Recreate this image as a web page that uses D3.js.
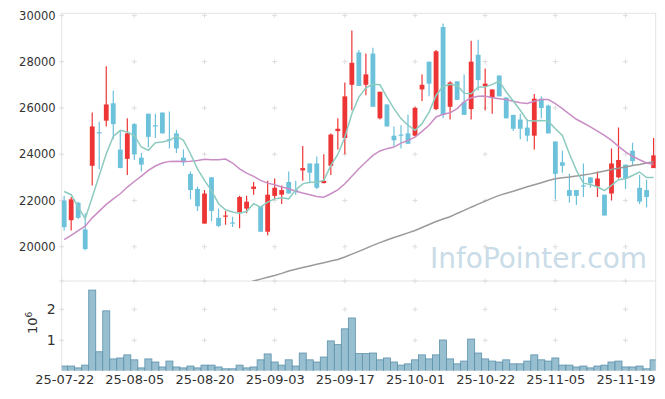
<!DOCTYPE html>
<html>
<head>
<meta charset="utf-8">
<script src="https://cdn.jsdelivr.net/npm/d3@7"></script>
<style>
  body { margin: 0; background: #fff; }
  text { font-family: "DejaVu Sans", Verdana, sans-serif; fill: #333; }
</style>
</head>
<body>
<div id="chart"></div>
<script>
// trading days shown on the chart
var dates = [
  "25-07-22", "25-07-23", "25-07-24", "25-07-25", "25-07-28", "25-07-29", "25-07-30", "25-07-31", "25-08-01", "25-08-04",
  "25-08-05", "25-08-06", "25-08-07", "25-08-08", "25-08-11", "25-08-12", "25-08-13", "25-08-14", "25-08-18", "25-08-19",
  "25-08-20", "25-08-21", "25-08-22", "25-08-25", "25-08-26", "25-08-27", "25-08-28", "25-08-29", "25-09-01", "25-09-02",
  "25-09-03", "25-09-04", "25-09-05", "25-09-08", "25-09-09", "25-09-10", "25-09-11", "25-09-12", "25-09-15", "25-09-16",
  "25-09-17", "25-09-18", "25-09-19", "25-09-22", "25-09-23", "25-09-24", "25-09-25", "25-09-26", "25-09-29", "25-09-30",
  "25-10-01", "25-10-02", "25-10-10", "25-10-13", "25-10-14", "25-10-15", "25-10-16", "25-10-17", "25-10-20", "25-10-21",
  "25-10-22", "25-10-23", "25-10-24", "25-10-27", "25-10-28", "25-10-29", "25-10-30", "25-10-31", "25-11-03", "25-11-04",
  "25-11-05", "25-11-06", "25-11-07", "25-11-10", "25-11-11", "25-11-12", "25-11-13", "25-11-14", "25-11-17", "25-11-18",
  "25-11-19", "25-11-20", "25-11-21", "25-11-24", "25-11-25"
];

var openPrice = [
  22000, 21150, 21900, 20750, 23500, 24950, 25450, 26200, 24200, 23800,
  25300, 23850, 25750, 25250, 25800, 24650, 24900, 23850, 23150, 22500,
  21000, 23000, 21250, 21300, 21050, 21500, 21650, 22500, 21750, 20650,
  22200, 22250, 22800, 22450, 23300, 23600, 23600, 22750, 23500, 25000,
  24700, 27000, 28400, 27000, 28350, 25550, 26150, 24800, 24850, 24900,
  24800, 26800, 28000, 25950, 29500, 26050, 27150, 26250, 25950, 28300,
  26950, 26450, 27400, 26450, 25700, 25500, 25150, 24800, 26400, 26100,
  24550, 23650, 22450, 22450, 22650, 23000, 22600, 22250, 22300, 23000,
  23550, 24150, 22550, 22450, 23400
];
var highPrice = [
  22200, 22150, 21950, 21450, 25800, 25400, 27800, 26750, 25000, 25550,
  25350, 24050, 25750, 25750, 25800, 25850, 25050, 24200, 23250, 22600,
  22450, 23000, 21650, 21550, 21300, 22200, 22200, 22800, 21750, 22850,
  22950, 22650, 23250, 22850, 24350, 23600, 23900, 24000, 24900, 25550,
  27100, 29350, 28500, 28350, 28600, 26700, 26150, 25200, 25250, 25700,
  26050, 27450, 28000, 28500, 29650, 27150, 27150, 27450, 28900, 28950,
  27700, 26800, 27400, 26450, 25700, 25750, 25500, 26600, 26500, 26150,
  24550, 24150, 23150, 22450, 23600, 23000, 23250, 22250, 24250, 25150,
  23550, 24500, 23100, 22900, 24700
];
var lowPrice = [
  20700, 20700, 21200, 19850, 22650, 23350, 25200, 24650, 23400, 23100,
  23750, 23250, 24300, 24700, 24900, 24250, 24050, 23500, 22050, 21550,
  21000, 21100, 20850, 20950, 20850, 20800, 21450, 22250, 20650, 20500,
  22050, 21850, 22300, 22250, 22850, 22750, 22500, 22750, 23100, 24200,
  24000, 25900, 26950, 26550, 26050, 25500, 25200, 24350, 24250, 24450,
  24750, 26300, 26500, 25900, 25550, 25500, 26350, 25700, 25500, 26750,
  25900, 25750, 26500, 25550, 25000, 24650, 24550, 24200, 25550, 24900,
  22050, 23200, 21900, 21800, 22150, 22550, 22150, 21350, 22000, 22950,
  22500, 23500, 21850, 21700, 23400
];
var closePrice = [
  20850, 22050, 21250, 19900, 25200, 24900, 26150, 25300, 23400, 24900,
  24000, 23550, 24750, 25200, 24900, 24600, 24250, 23650, 22450, 21750,
  22300, 21550, 20900, 21350, 21000, 22150, 21950, 22600, 20650, 22250,
  22550, 22450, 22300, 22400, 23400, 23200, 22550, 22850, 24850, 25100,
  26500, 27950, 26950, 27450, 26050, 26700, 25200, 24600, 24800, 24450,
  26000, 27000, 27050, 28450, 25700, 27100, 26350, 25700, 28000, 27200,
  27050, 26800, 26500, 25550, 25100, 25100, 24800, 26400, 26000, 24900,
  23150, 23500, 22200, 22200, 22600, 22750, 22950, 21350, 23600, 23750,
  22950, 23700, 21950, 22150, 23950
];

// shares traded
var volume = [
  170000, 170000, 110000, 200000, 2620000, 630000, 1950000, 400000, 430000, 530000,
  370000, 110000, 400000, 300000, 140000, 330000, 140000, 110000, 170000, 110000,
  200000, 200000, 140000, 80000, 80000, 200000, 110000, 140000, 370000, 560000,
  300000, 200000, 370000, 170000, 590000, 370000, 300000, 460000, 980000, 860000,
  1370000, 1720000, 570000, 570000, 590000, 370000, 430000, 300000, 200000, 240000,
  370000, 530000, 400000, 530000, 1010000, 400000, 240000, 330000, 1040000, 590000,
  400000, 330000, 300000, 370000, 240000, 240000, 330000, 530000, 370000, 330000,
  430000, 200000, 200000, 140000, 170000, 110000, 170000, 200000, 300000, 330000,
  140000, 140000, 170000, 80000, 370000
];

// moving averages as drawn (5, 20, 60 days)
var ma5 = [
  22390, 22250, 21710, 21210, 22140, 23080, 24020, 24770, 25030, 24960,
  24810, 24310, 24170, 24500, 24530, 24600, 24770, 24600, 24020, 23370,
  22870, 22430, 21860, 21600, 21500, 21450, 21520, 21860, 21710, 21930,
  22070, 22120, 22070, 22460, 22720, 22790, 22790, 22870, 23520, 23990,
  24740, 25750, 26470, 26870, 27020, 27000, 26470, 25970, 25540, 25250,
  25030, 25320, 25820, 26540, 26930, 27020, 26970, 26640, 26610, 26900,
  26900, 27020, 27160, 26690, 26300, 25900, 25460, 25430, 25460, 25430,
  25100, 24810, 24020, 23300, 22750, 22690, 22580, 22430, 22650, 22900,
  22940, 23080, 23230, 22990, 22990
];
var ma20 = [
  20310, 20490, 20700, 20890, 21250, 21540, 21830, 22070, 22290, 22580,
  22820, 23050, 23300, 23490, 23620, 23690, 23700, 23690, 23700, 23730,
  23780, 23760, 23760, 23790, 23620, 23370, 23180, 23040, 22870, 22750,
  22680, 22580, 22510, 22400, 22320, 22250, 22170, 22140, 22290, 22460,
  22720, 23050, 23370, 23660, 23950, 24140, 24240, 24310, 24480, 24600,
  24740, 24990, 25250, 25610, 25730, 25790, 25970, 26260, 26440, 26500,
  26520, 26440, 26400, 26360, 26290, 26220, 26190, 26290, 26360, 26360,
  26190, 25970, 25730, 25510, 25350, 25180, 25000, 24810, 24600, 24340,
  24100, 23910, 23760, 23620, 23560
];
var ma60 = [
  null, null, null, null, null, null, null, null, null, null,
  null, null, null, null, null, null, null, null, null, null,
  null, null, null, null, null, null, 18420, 18520, 18600, 18680,
  18760, 18850, 18950, 19030, 19100, 19170, 19240, 19310, 19380, 19450,
  19560, 19680, 19800, 19930, 20060, 20180, 20290, 20400, 20500, 20600,
  20700, 20830, 20960, 21090, 21200, 21300, 21440, 21570, 21710, 21840,
  21970, 22100, 22220, 22310, 22400, 22500, 22590, 22680, 22770, 22860,
  22940, 22980, 23010, 23060, 23100, 23150, 23210, 23270, 23340, 23390,
  23450, 23510, 23560, 23620, 23680
];

var priceTicks = [20000, 22000, 24000, 26000, 28000, 30000];
var volumeTicks = [1000000, 2000000];
var dateTicks = ["25-07-22", "25-08-05", "25-08-20", "25-09-03", "25-09-17", "25-10-01", "25-10-22", "25-11-05", "25-11-19"];

var svgWidth = 665;
var svgHeight = 399;

// panel edges
var plot = { left: 61.7, right: 655.7, top: 13.3, split: 281, bottom: 370.5 };

var upColor = "#ee3535";
var downColor = "#6cc1db";

var svg = d3.select("#chart")
  .append("svg")
  .attr("width", svgWidth)
  .attr("height", svgHeight);

var x = d3.scaleLinear()
  .domain([-0.35, 84.3])
  .range([plot.left, plot.right]);

var yPrice = d3.scaleLinear()
  .domain([18520, 30090])
  .range([plot.split, plot.top]);

var yVol = d3.scaleLinear()
  .domain([0, 2913000])
  .range([371.3, plot.split]);

svg.append("defs").append("clipPath")
  .attr("id", "priceClip")
  .append("rect")
  .attr("x", plot.left)
  .attr("y", plot.top)
  .attr("width", plot.right - plot.left)
  .attr("height", plot.split - plot.top);

svg.select("defs").append("clipPath")
  .attr("id", "volClip")
  .append("rect")
  .attr("x", plot.left)
  .attr("y", plot.split)
  .attr("width", plot.right - plot.left)
  .attr("height", plot.bottom - plot.split);

// watermark
svg.append("text")
  .attr("x", 430)
  .attr("y", 268)
  .attr("textLength", 217)
  .attr("lengthAdjust", "spacingAndGlyphs")
  .style("font-size", "29px")
  .style("fill", "#c9dce7")
  .text("InfoPointer.com");

// frame
var frame = svg.append("g")
  .attr("stroke", "#e4e4e4")
  .attr("stroke-width", 1)
  .attr("fill", "none");
frame.append("rect")
  .attr("x", plot.left)
  .attr("y", plot.top)
  .attr("width", plot.right - plot.left)
  .attr("height", plot.bottom - plot.top);
frame.append("line")
  .attr("x1", plot.left).attr("x2", plot.right)
  .attr("y1", plot.split).attr("y2", plot.split);

// small "+" marks where the grid lines would cross
var gridX = [plot.left].concat(dateTicks.slice(1).map(d => x(dates.indexOf(d))));
var gridY = priceTicks.map(d => yPrice(d))
  .concat(volumeTicks.map(d => yVol(d)))
  .concat([plot.split]);
var crosses = [];
gridX.forEach(function(gx) {
  gridY.forEach(function(gy) { crosses.push([gx, gy]); });
});
var crossG = svg.append("g").attr("stroke", "#dedede").attr("stroke-width", 1);
crossG.selectAll(".crossH")
  .data(crosses)
  .enter()
  .append("line")
  .attr("x1", d => d[0] - 2.5).attr("x2", d => d[0] + 2.5)
  .attr("y1", d => d[1]).attr("y2", d => d[1]);
crossG.selectAll(".crossV")
  .data(crosses)
  .enter()
  .append("line")
  .attr("x1", d => d[0]).attr("x2", d => d[0])
  .attr("y1", d => d[1] - 2.5).attr("y2", d => d[1] + 2.5);

// axes (labels only, ticks hidden)
var leftAxis = d3.axisLeft(yPrice).tickValues(priceTicks).tickSize(0).tickPadding(6)
  .tickFormat(d3.format("d"));
var priceAxisG = svg.append("g")
  .attr("transform", `translate(${plot.left}, 0)`)
  .call(leftAxis);
priceAxisG.select(".domain").remove();
priceAxisG.selectAll("text").style("font-size", "11.5px").style("fill", "#333");

var volAxis = d3.axisLeft(yVol).tickValues(volumeTicks).tickSize(0).tickPadding(6)
  .tickFormat(d => d / 1000000);
var volAxisG = svg.append("g")
  .attr("transform", `translate(${plot.left}, 0)`)
  .call(volAxis);
volAxisG.select(".domain").remove();
volAxisG.selectAll("text").style("font-size", "14px").style("fill", "#333");

var bottomAxis = d3.axisBottom(x)
  .tickValues(dateTicks.map(d => dates.indexOf(d)))
  .tickFormat(i => dates[i])
  .tickSize(0)
  .tickPadding(4);
var dateAxisG = svg.append("g")
  .attr("transform", `translate(0, ${plot.bottom})`)
  .call(bottomAxis);
dateAxisG.select(".domain").remove();
dateAxisG.selectAll("text").style("font-size", "13px").style("fill", "#333");

// 10^6 unit label
var unit = svg.append("text")
  .attr("transform", "translate(36.5, 334) rotate(-90)")
  .style("font-size", "13px")
  .style("fill", "#333");
unit.append("tspan").text("10");
unit.append("tspan").attr("dy", -5).style("font-size", "9px").text("6");

// volume bars
var idx = d3.range(dates.length);
var step = x(1) - x(0);
svg.append("g")
  .attr("clip-path", "url(#volClip)")
  .selectAll(".volBar")
  .data(idx)
  .enter()
  .append("rect")
  .attr("class", "volBar")
  .attr("x", i => x(i) - step / 2)
  .attr("width", step)
  .attr("y", i => yVol(volume[i]))
  .attr("height", i => yVol(0) - yVol(volume[i]))
  .attr("fill", "#98bfd0")
  .attr("stroke", "#5c91ab")
  .attr("stroke-width", 0.8);

// candles
var candleG = svg.append("g").attr("clip-path", "url(#priceClip)");
candleG.selectAll(".wick")
  .data(idx)
  .enter()
  .append("line")
  .attr("class", "wick")
  .attr("x1", i => x(i)).attr("x2", i => x(i))
  .attr("y1", i => yPrice(highPrice[i]))
  .attr("y2", i => yPrice(lowPrice[i]))
  .attr("stroke", i => closePrice[i] > openPrice[i] ? upColor : downColor)
  .attr("stroke-width", 1.2);

candleG.selectAll(".body")
  .data(idx)
  .enter()
  .append("rect")
  .attr("class", "body")
  .attr("x", i => x(i) - 2.4)
  .attr("width", 4.8)
  .attr("y", i => yPrice(Math.max(openPrice[i], closePrice[i])))
  .attr("height", i => Math.max(1.2, Math.abs(yPrice(openPrice[i]) - yPrice(closePrice[i]))))
  .attr("fill", i => closePrice[i] > openPrice[i] ? upColor : downColor);

// moving average lines
function maLine(values) {
  return d3.line()
    .defined(i => values[i] != null)
    .x(i => x(i))
    .y(i => yPrice(values[i]));
}

var lineG = svg.append("g").attr("clip-path", "url(#priceClip)").attr("fill", "none");
lineG.append("path")
  .attr("d", maLine(ma60)(idx))
  .attr("stroke", "#9a9a9a")
  .attr("stroke-width", 1.5);
lineG.append("path")
  .attr("d", maLine(ma20)(idx))
  .attr("stroke", "#c98dc6")
  .attr("stroke-width", 1.5);
lineG.append("path")
  .attr("d", maLine(ma5)(idx))
  .attr("stroke", "#8ccbbf")
  .attr("stroke-width", 1.5);
</script>
</body>
</html>
